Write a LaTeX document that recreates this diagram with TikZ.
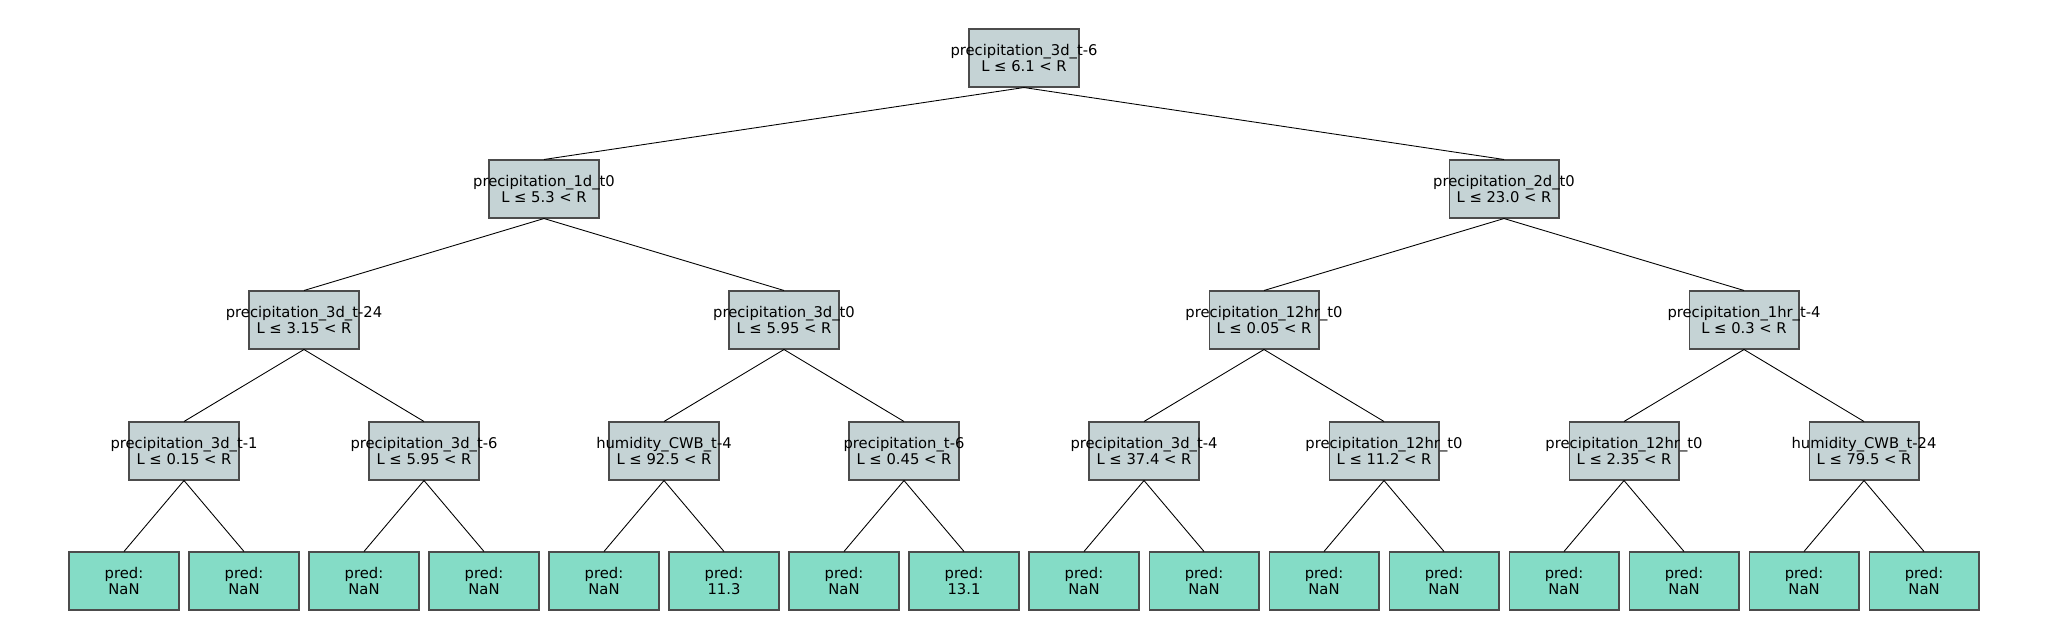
\documentclass[tikz,border=0pt]{standalone}
\usepackage{fontspec}
\setmainfont{DejaVu Sans}
\definecolor{splitgrey}{RGB}{197,211,213}
\definecolor{leafgreen}{RGB}{132,220,198}
\begin{document}
\begin{tikzpicture}[x=0.02cm,y=-0.02cm,
    font=\fontsize{8.4pt}{9.1pt}\selectfont,
    box/.style={draw=black!70,line width=.6pt,minimum width=2.2cm,minimum height=1.16cm,inner sep=0pt},
    split/.style={box,fill=splitgrey},
    leaf/.style={box,fill=leafgreen,align=center},
    lab/.style={align=center,inner sep=0pt},
    edge/.style={black,line width=.5pt}]
    \useasboundingbox (0,0) rectangle (2048,640);
    % split nodes, numbered as a heap
    \node[split,label={[lab]center:{precipitation\_3d\_t-6\\L ≤ 6.1 < R}}] (s1) at (1024,58) {};
    \node[split,label={[lab]center:{precipitation\_1d\_t0\\L ≤ 5.3 < R}}] (s2) at (544,189) {};
    \node[split,label={[lab]center:{precipitation\_2d\_t0\\L ≤ 23.0 < R}}] (s3) at (1504,189) {};
    \node[split,label={[lab]center:{precipitation\_3d\_t-24\\L ≤ 3.15 < R}}] (s4) at (304,320) {};
    \node[split,label={[lab]center:{precipitation\_3d\_t0\\L ≤ 5.95 < R}}] (s5) at (784,320) {};
    \node[split,label={[lab]center:{precipitation\_12hr\_t0\\L ≤ 0.05 < R}}] (s6) at (1264,320) {};
    \node[split,label={[lab]center:{precipitation\_1hr\_t-4\\L ≤ 0.3 < R}}] (s7) at (1744,320) {};
    \node[split,label={[lab]center:{precipitation\_3d\_t-1\\L ≤ 0.15 < R}}] (s8) at (184,451) {};
    \node[split,label={[lab]center:{precipitation\_3d\_t-6\\L ≤ 5.95 < R}}] (s9) at (424,451) {};
    \node[split,label={[lab]center:{humidity\_CWB\_t-4\\L ≤ 92.5 < R}}] (s10) at (664,451) {};
    \node[split,label={[lab]center:{precipitation\_t-6\\L ≤ 0.45 < R}}] (s11) at (904,451) {};
    \node[split,label={[lab]center:{precipitation\_3d\_t-4\\L ≤ 37.4 < R}}] (s12) at (1144,451) {};
    \node[split,label={[lab]center:{precipitation\_12hr\_t0\\L ≤ 11.2 < R}}] (s13) at (1384,451) {};
    \node[split,label={[lab]center:{precipitation\_12hr\_t0\\L ≤ 2.35 < R}}] (s14) at (1624,451) {};
    \node[split,label={[lab]center:{humidity\_CWB\_t-24\\L ≤ 79.5 < R}}] (s15) at (1864,451) {};
    % leaves s16 ... s31
    \foreach \v [count=\i from 16] in {NaN,NaN,NaN,NaN,NaN,11.3,NaN,13.1,NaN,NaN,NaN,NaN,NaN,NaN,NaN,NaN}
    \node[leaf] (s\i) at ({124+120*(\i-16)},581) {pred:\\\v};
    % edges
    \foreach \p in {1,...,15} {
      \pgfmathtruncatemacro\a{2*\p}
      \pgfmathtruncatemacro\b{2*\p+1}
      \draw[edge] (s\p.south) -- (s\a.north);
      \draw[edge] (s\p.south) -- (s\b.north);
    }
  \end{tikzpicture}
\end{document}
